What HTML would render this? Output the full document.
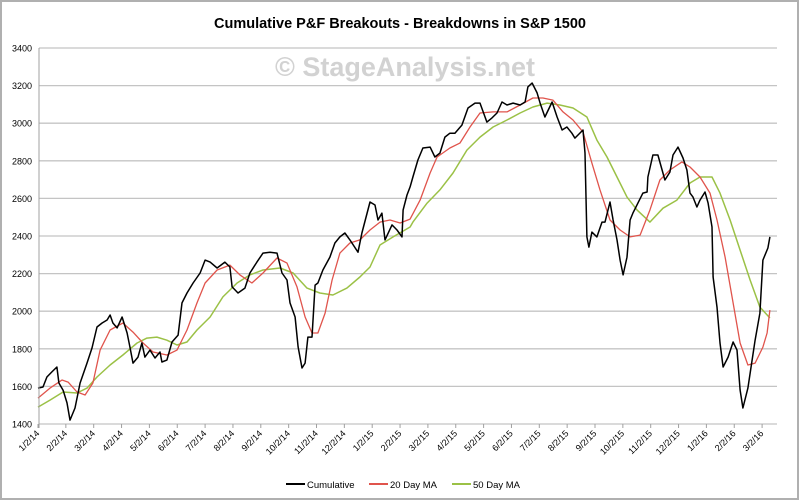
<!DOCTYPE html>
<html><head><meta charset="utf-8"><style>
html,body{margin:0;padding:0;background:#fff}
svg{display:block}
text{font-family:"Liberation Sans",sans-serif}
</style></head><body>
<svg id="chart" width="800" height="502" xmlns="http://www.w3.org/2000/svg">
<rect x="1" y="1" width="797" height="498" fill="#fff" stroke="#b0b0b0" stroke-width="2"/>
<text x="400" y="28" text-anchor="middle" font-size="14.5" font-weight="bold" fill="#000">Cumulative P&amp;F Breakouts - Breakdowns in S&amp;P 1500</text>
<g id="grid"></g>
<text x="405" y="76" text-anchor="middle" font-size="27" font-weight="bold" fill="#d2d2d2">© StageAnalysis.net</text>
<g id="series"></g>
<g id="xaxis"></g>
<g id="legend">
<line x1="286" y1="484" x2="305" y2="484" stroke="#000" stroke-width="2"/>
<text x="307" y="488" font-size="9.5" fill="#000">Cumulative</text>
<line x1="369" y1="484" x2="388" y2="484" stroke="#e0544c" stroke-width="2"/>
<text x="390" y="488" font-size="9.5" fill="#000">20 Day MA</text>
<line x1="452" y1="484" x2="471" y2="484" stroke="#9bc146" stroke-width="2"/>
<text x="473" y="488" font-size="9.5" fill="#000">50 Day MA</text>
</g>
</svg>
<script>
const yTicks=[1400,1600,1800,2000,2200,2400,2600,2800,3000,3200,3400];
const xTickLabels=["1/2/14","2/2/14","3/2/14","4/2/14","5/2/14","6/2/14","7/2/14","8/2/14","9/2/14","10/2/14","11/2/14","12/2/14","1/2/15","2/2/15","3/2/15","4/2/15","5/2/15","6/2/15","7/2/15","8/2/15","9/2/15","10/2/15","11/2/15","12/2/15","1/2/16","2/2/16","3/2/16"];
const cumX=[0,.18,.32,.5,.68,.75,.9,1.04,1.15,1.33,1.51,1.76,1.94,2.12,2.3,2.48,2.59,2.69,2.84,3.02,3.2,3.3,3.41,3.59,3.73,3.84,4.02,4.2,4.38,4.45,4.63,4.81,5.03,5.17,5.35,5.57,5.82,6.0,6.18,6.43,6.71,6.89,6.97,7.18,7.43,7.61,7.86,8.08,8.33,8.58,8.76,8.94,9.05,9.23,9.34,9.48,9.59,9.69,9.84,9.95,10.05,10.23,10.48,10.66,10.84,11.02,11.2,11.49,11.63,11.92,12.1,12.21,12.35,12.46,12.71,12.89,13.07,13.11,13.25,13.36,13.46,13.64,13.82,14.08,14.25,14.43,14.61,14.79,14.97,15.22,15.44,15.69,15.87,16.12,16.3,16.48,16.66,16.84,17.06,17.31,17.49,17.59,17.74,17.92,18.03,18.2,18.46,18.64,18.82,18.99,19.17,19.28,19.39,19.57,19.64,19.71,19.78,19.89,20.07,20.25,20.36,20.54,20.65,20.79,20.9,21.01,21.15,21.26,21.36,21.54,21.72,21.87,21.9,22.08,22.26,22.41,22.51,22.69,22.8,22.98,23.16,23.3,23.41,23.52,23.66,23.77,23.95,24.06,24.2,24.24,24.38,24.49,24.6,24.78,24.96,25.1,25.21,25.31,25.49,25.64,25.75,25.92,26.03,26.21,26.28];
const cumY=[1591,1597,1650,1677,1703,1618,1580,1512,1421,1485,1618,1724,1804,1916,1937,1953,1980,1937,1911,1969,1884,1810,1724,1756,1831,1756,1793,1751,1783,1730,1740,1836,1873,2044,2097,2150,2203,2272,2261,2230,2261,2235,2129,2097,2123,2203,2261,2309,2314,2309,2203,2166,2044,1969,1810,1698,1724,1862,1862,2139,2150,2219,2288,2363,2395,2416,2379,2314,2416,2581,2565,2485,2522,2379,2459,2432,2395,2538,2618,2661,2714,2804,2868,2873,2820,2841,2926,2947,2947,2990,3081,3107,3107,3006,3028,3054,3113,3097,3107,3097,3113,3193,3214,3161,3107,3033,3113,3033,2964,2980,2947,2921,2937,2964,2841,2395,2341,2421,2395,2474,2474,2581,2485,2379,2272,2193,2288,2485,2522,2575,2628,2634,2714,2831,2831,2751,2698,2740,2831,2873,2815,2751,2628,2607,2554,2591,2634,2575,2448,2182,2022,1831,1703,1756,1836,1793,1581,1485,1591,1740,1846,1990,2272,2336,2395];
const ma20X=[0,.43,.86,1.08,1.4,1.69,1.97,2.23,2.59,3.05,3.41,3.77,4.13,4.63,4.99,5.35,5.71,6.0,6.43,6.89,7.25,7.68,8.08,8.58,8.94,9.3,9.59,9.84,10.05,10.31,10.56,10.84,11.2,11.56,11.92,12.28,12.64,13.0,13.36,13.72,14.08,14.33,14.79,15.15,15.51,15.87,16.34,16.84,17.31,17.77,18.13,18.49,18.85,19.21,19.57,19.89,20.18,20.54,20.9,21.26,21.62,21.97,22.33,22.69,23.12,23.41,23.77,24.13,24.38,24.67,24.96,25.21,25.49,25.75,26.03,26.18,26.28];
const ma20Y=[1538,1591,1634,1623,1570,1554,1618,1793,1900,1937,1889,1831,1783,1767,1793,1900,2044,2150,2219,2245,2193,2150,2203,2283,2256,2129,1969,1884,1884,1990,2166,2309,2363,2379,2432,2474,2485,2469,2490,2591,2735,2820,2868,2894,2980,3054,3060,3060,3097,3134,3134,3123,3060,3017,2953,2788,2645,2485,2432,2395,2405,2538,2698,2751,2794,2767,2714,2628,2485,2288,2044,1831,1714,1724,1809,1884,2006];
const ma50X=[0,.43,.9,1.4,1.76,2.12,2.59,3.05,3.56,3.91,4.27,4.63,4.99,5.35,5.71,6.18,6.64,7.15,7.61,8.08,8.69,9.16,9.66,10.12,10.59,11.09,11.56,11.92,12.28,12.75,13.36,13.46,13.97,14.43,14.9,15.4,15.87,16.34,16.84,17.31,17.77,18.28,18.74,19.21,19.71,20.07,20.43,20.79,21.15,21.51,21.97,22.44,22.94,23.41,23.77,24.2,24.49,24.85,25.21,25.57,25.92,26.28];
const ma50Y=[1490,1527,1570,1565,1591,1650,1714,1767,1831,1857,1862,1846,1820,1836,1900,1969,2076,2150,2193,2219,2230,2203,2123,2097,2086,2123,2182,2235,2352,2395,2448,2474,2575,2645,2735,2857,2926,2980,3017,3054,3086,3107,3097,3081,3033,2910,2820,2714,2607,2538,2474,2548,2591,2682,2714,2714,2628,2485,2325,2166,2022,1964];

const NS="http://www.w3.org/2000/svg";
const L=39,R=777,T=48,B=424,X0=38,XS=27.85;
function xs(m){return X0+m*XS;}
function ys(v){return B-(v-1400)/2000*(B-T);}
const grid=document.getElementById('grid');
yTicks.forEach(v=>{
  const ln=document.createElementNS(NS,'line');
  ln.setAttribute('x1',L);ln.setAttribute('x2',R);ln.setAttribute('y1',ys(v));ln.setAttribute('y2',ys(v));
  ln.setAttribute('stroke','#c4c4c4');ln.setAttribute('stroke-width','1.3');
  
  
  grid.appendChild(ln);
  const t=document.createElementNS(NS,'text');
  t.setAttribute('x',32);t.setAttribute('y',ys(v)+3.5);t.setAttribute('text-anchor','end');t.setAttribute('font-size','9');
  t.textContent=v;
  
  
  grid.appendChild(t);
});
const xa=document.getElementById('xaxis');
const ax=document.createElementNS(NS,'line');
ax.setAttribute('x1',L);ax.setAttribute('x2',L);ax.setAttribute('y1',T);ax.setAttribute('y2',B+4);ax.setAttribute('stroke','#a0a0a0');


xa.appendChild(ax);
xTickLabels.forEach((lab,i)=>{
  const x=xs(i);
  const tk=document.createElementNS(NS,'line');
  tk.setAttribute('x1',x);tk.setAttribute('x2',x);tk.setAttribute('y1',B);tk.setAttribute('y2',B+4);tk.setAttribute('stroke','#a0a0a0');
  
  
  xa.appendChild(tk);
  const t=document.createElementNS(NS,'text');
  t.setAttribute('x',x+2);t.setAttribute('y',B+10);t.setAttribute('text-anchor','end');t.setAttribute('font-size','9');
  t.setAttribute('transform','rotate(-45 '+(x+2)+' '+(B+10)+')');
  t.textContent=lab;
  
  
  xa.appendChild(t);
});
const sg=document.getElementById('series');
function line(X,Y,color,w,name){
  const p=document.createElementNS(NS,'polyline');
  p.setAttribute('points',X.map((m,i)=>xs(m).toFixed(1)+','+ys(Y[i]).toFixed(1)).join(' '));
  p.setAttribute('fill','none');p.setAttribute('stroke',color);p.setAttribute('stroke-width',w);p.setAttribute('stroke-linejoin','round');
  
  
  sg.appendChild(p);
}
line(ma50X,ma50Y,'#9bc146',1.5,'series-50-day-ma');
line(ma20X,ma20Y,'#e0544c',1.3,'series-20-day-ma');
line(cumX,cumY,'#000',1.5,'series-cumulative');
</script>
</body></html>
